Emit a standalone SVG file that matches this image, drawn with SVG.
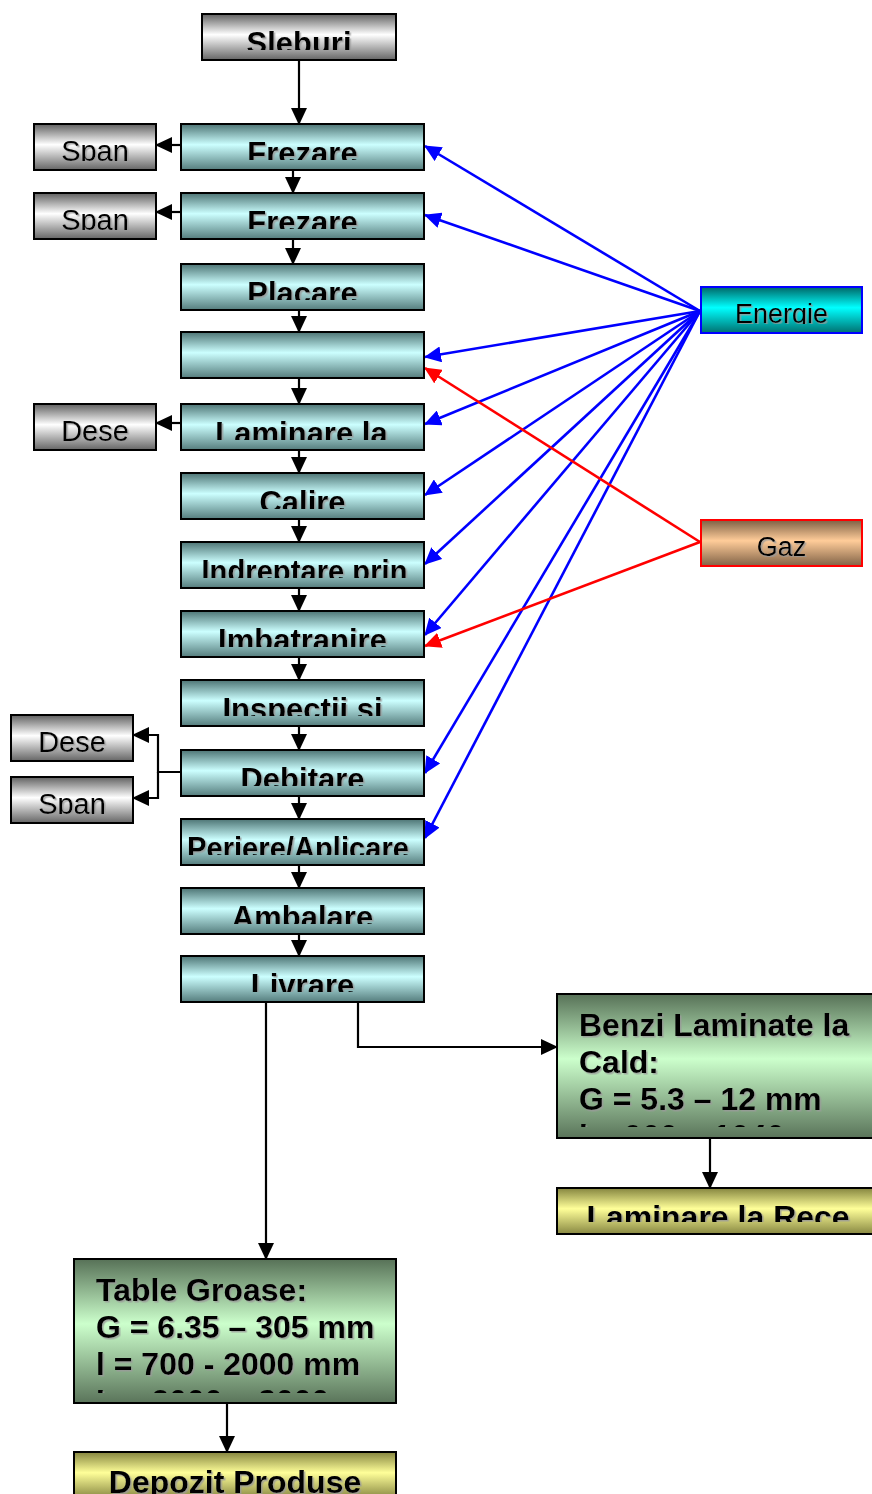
<svg xmlns="http://www.w3.org/2000/svg" width="872" height="1494" viewBox="0 0 872 1494">
<style>
.box{stroke:#000;stroke-width:2}
.cyan{fill:url(#gCyan)}
.gray{fill:url(#gGray)}
.green{fill:url(#gGreen)}
.yellow{fill:url(#gYellow)}
.en{fill:url(#gEn);stroke:#0000ff;stroke-width:2}
.gz{fill:url(#gGaz);stroke:#ff0000;stroke-width:2}
.tb{font-family:"Liberation Sans",Arial,sans-serif;font-weight:bold;font-size:31px;fill:#000;filter:url(#sh)}
.tl{font-size:32px}
.tr{font-family:"Liberation Sans",Arial,sans-serif;font-size:29px;fill:#000;filter:url(#sh)}
.ts{font-family:"Liberation Sans",Arial,sans-serif;font-size:27px;fill:#000;filter:url(#sh)}
.c{text-anchor:middle}
.k{fill:none;stroke:#000;stroke-width:2.2}
.b{fill:none;stroke:#0000ff;stroke-width:2.6}
.r{fill:none;stroke:#ff0000;stroke-width:2.6}
</style>
<defs>
<filter id="sh" x="-5%" y="-5%" width="110%" height="120%">
<feDropShadow dx="1.5" dy="1.5" stdDeviation="0" flood-color="#9a9a9a" flood-opacity="0.8"/>
</filter>
<linearGradient id="gCyan" x1="0" y1="0" x2="0" y2="1"><stop offset="0" stop-color="#4d7474"/><stop offset="0.45" stop-color="#ccffff"/><stop offset="1" stop-color="#557d7d"/></linearGradient>
<linearGradient id="gGray" x1="0" y1="0" x2="0" y2="1"><stop offset="0" stop-color="#606060"/><stop offset="0.45" stop-color="#ffffff"/><stop offset="1" stop-color="#656565"/></linearGradient>
<linearGradient id="gEn" x1="0" y1="0" x2="0" y2="1"><stop offset="0" stop-color="#006666"/><stop offset="0.45" stop-color="#00ffff"/><stop offset="1" stop-color="#007070"/></linearGradient>
<linearGradient id="gGaz" x1="0" y1="0" x2="0" y2="1"><stop offset="0" stop-color="#7d6044"/><stop offset="0.45" stop-color="#ffcc99"/><stop offset="1" stop-color="#806246"/></linearGradient>
<linearGradient id="gGreen" x1="0" y1="0" x2="0" y2="1"><stop offset="0" stop-color="#577157"/><stop offset="0.45" stop-color="#ccffcc"/><stop offset="1" stop-color="#5a745a"/></linearGradient>
<linearGradient id="gYellow" x1="0" y1="0" x2="0" y2="1"><stop offset="0" stop-color="#85853f"/><stop offset="0.45" stop-color="#ffff99"/><stop offset="1" stop-color="#888842"/></linearGradient>
<marker id="ak" markerUnits="userSpaceOnUse" viewBox="0 0 17 16" markerWidth="17" markerHeight="16" refX="16" refY="8" orient="auto"><path d="M0,0 L17,8 L0,16 z" fill="#000"/></marker>
<marker id="ab" markerUnits="userSpaceOnUse" viewBox="0 0 17 16" markerWidth="17" markerHeight="16" refX="16" refY="8" orient="auto"><path d="M0,0 L17,8 L0,16 z" fill="#0000ff"/></marker>
<marker id="ar" markerUnits="userSpaceOnUse" viewBox="0 0 17 16" markerWidth="17" markerHeight="16" refX="16" refY="8" orient="auto"><path d="M0,0 L17,8 L0,16 z" fill="#ff0000"/></marker>
<clipPath id="c_sleb"><rect x="202" y="14" width="194" height="36"/></clipPath>
<clipPath id="c_fr1"><rect x="181" y="124" width="243" height="36"/></clipPath>
<clipPath id="c_fr2"><rect x="181" y="193" width="243" height="36"/></clipPath>
<clipPath id="c_plac"><rect x="181" y="264" width="243" height="36"/></clipPath>
<clipPath id="c_lam"><rect x="181" y="404" width="243" height="36"/></clipPath>
<clipPath id="c_cal"><rect x="181" y="473" width="243" height="36"/></clipPath>
<clipPath id="c_ind"><rect x="181" y="542" width="243" height="36"/></clipPath>
<clipPath id="c_imb"><rect x="181" y="611" width="243" height="36"/></clipPath>
<clipPath id="c_ins"><rect x="181" y="680" width="243" height="36"/></clipPath>
<clipPath id="c_deb"><rect x="181" y="750" width="243" height="36"/></clipPath>
<clipPath id="c_per"><rect x="181" y="819" width="243" height="36"/></clipPath>
<clipPath id="c_amb"><rect x="181" y="888" width="243" height="36"/></clipPath>
<clipPath id="c_liv"><rect x="181" y="956" width="243" height="36"/></clipPath>
<clipPath id="c_sp1"><rect x="34" y="124" width="122" height="37"/></clipPath>
<clipPath id="c_sp2"><rect x="34" y="193" width="122" height="37"/></clipPath>
<clipPath id="c_de1"><rect x="34" y="404" width="122" height="37"/></clipPath>
<clipPath id="c_de2"><rect x="11" y="715" width="122" height="37"/></clipPath>
<clipPath id="c_sp3"><rect x="11" y="777" width="122" height="37"/></clipPath>
<clipPath id="c_en"><rect x="701" y="287" width="161" height="37"/></clipPath>
<clipPath id="c_gz"><rect x="701" y="520" width="161" height="37"/></clipPath>
<clipPath id="c_benzi"><rect x="557" y="994" width="322" height="133"/></clipPath>
<clipPath id="c_rece"><rect x="557" y="1188" width="322" height="34"/></clipPath>
<clipPath id="c_table"><rect x="74" y="1259" width="322" height="134"/></clipPath>
<clipPath id="c_dep"><rect x="74" y="1452" width="322" height="42"/></clipPath>
</defs>
<rect width="872" height="1494" fill="#fff"/>

<g id="connectors">
<path class="k" d="M299,60 V124" marker-end="url(#ak)"/>
<path class="k" d="M293,170 V193" marker-end="url(#ak)"/>
<path class="k" d="M293,239 V264" marker-end="url(#ak)"/>
<path class="k" d="M299,310 V332" marker-end="url(#ak)"/>
<path class="k" d="M299,378 V404" marker-end="url(#ak)"/>
<path class="k" d="M299,450 V473" marker-end="url(#ak)"/>
<path class="k" d="M299,519 V542" marker-end="url(#ak)"/>
<path class="k" d="M299,588 V611" marker-end="url(#ak)"/>
<path class="k" d="M299,657 V680" marker-end="url(#ak)"/>
<path class="k" d="M299,726 V750" marker-end="url(#ak)"/>
<path class="k" d="M299,796 V819" marker-end="url(#ak)"/>
<path class="k" d="M299,865 V888" marker-end="url(#ak)"/>
<path class="k" d="M299,934 V956" marker-end="url(#ak)"/>
<path class="k" d="M181,145 H156" marker-end="url(#ak)"/>
<path class="k" d="M181,212 H156" marker-end="url(#ak)"/>
<path class="k" d="M181,423 H156" marker-end="url(#ak)"/>
<path class="k" d="M181,772 H158 V735 H133" marker-end="url(#ak)"/>
<path class="k" d="M158,772 V798 H133" marker-end="url(#ak)"/>
<path class="k" d="M266,1002 V1259" marker-end="url(#ak)"/>
<path class="k" d="M358,1002 V1047 H557" marker-end="url(#ak)"/>
<path class="k" d="M710,1138 V1188" marker-end="url(#ak)"/>
<path class="k" d="M227,1403 V1452" marker-end="url(#ak)"/>
<path class="b" d="M700,311 L425,146" marker-end="url(#ab)"/>
<path class="b" d="M700,311 L425,215" marker-end="url(#ab)"/>
<path class="b" d="M700,311 L425,357" marker-end="url(#ab)"/>
<path class="b" d="M700,311 L425,424" marker-end="url(#ab)"/>
<path class="b" d="M700,311 L425,495" marker-end="url(#ab)"/>
<path class="b" d="M700,311 L425,564" marker-end="url(#ab)"/>
<path class="b" d="M700,311 L425,635" marker-end="url(#ab)"/>
<path class="b" d="M700,311 L425,773" marker-end="url(#ab)"/>
<path class="b" d="M700,311 L425,838" marker-end="url(#ab)"/>
<path class="r" d="M700,542 L425,368" marker-end="url(#ar)"/>
<path class="r" d="M700,542 L425,646" marker-end="url(#ar)"/>
</g>

<g id="sleburi"><rect class="box gray" x="202" y="14" width="194" height="46"/><text class="tb c" x="299" y="54" clip-path="url(#c_sleb)">Sleburi</text></g>
<g id="frezare1"><rect class="box cyan" x="181" y="124" width="243" height="46"/><text class="tb c" x="302.5" y="164" clip-path="url(#c_fr1)">Frezare</text></g>
<g id="frezare2"><rect class="box cyan" x="181" y="193" width="243" height="46"/><text class="tb c" x="302.5" y="233" clip-path="url(#c_fr2)">Frezare</text></g>
<g id="placare"><rect class="box cyan" x="181" y="264" width="243" height="46"/><text class="tb c" x="302.5" y="304" clip-path="url(#c_plac)">Placare</text></g>
<g id="blank"><rect class="box cyan" x="181" y="332" width="243" height="46"/></g>
<g id="laminare"><rect class="box cyan" x="181" y="404" width="243" height="46"/><text class="tb c" x="301.5" y="444" clip-path="url(#c_lam)">Laminare la</text></g>
<g id="calire"><rect class="box cyan" x="181" y="473" width="243" height="46"/><text class="tb c" x="302.5" y="513" clip-path="url(#c_cal)">Calire</text></g>
<g id="indreptare"><rect class="box cyan" x="181" y="542" width="243" height="46"/><text class="tb c" x="304.5" y="582" textLength="206" lengthAdjust="spacingAndGlyphs" clip-path="url(#c_ind)">Indreptare prin</text></g>
<g id="imbatranire"><rect class="box cyan" x="181" y="611" width="243" height="46"/><text class="tb c" x="302.5" y="651" clip-path="url(#c_imb)">Imbatranire</text></g>
<g id="inspectii"><rect class="box cyan" x="181" y="680" width="243" height="46"/><text class="tb c" x="302.5" y="720" clip-path="url(#c_ins)">Inspectii si</text></g>
<g id="debitare"><rect class="box cyan" x="181" y="750" width="243" height="46"/><text class="tb c" x="302.5" y="790" clip-path="url(#c_deb)">Debitare</text></g>
<g id="periere"><rect class="box cyan" x="181" y="819" width="243" height="46"/><text class="tb c" x="298" y="859" textLength="222" lengthAdjust="spacingAndGlyphs" clip-path="url(#c_per)">Periere/Aplicare</text></g>
<g id="ambalare"><rect class="box cyan" x="181" y="888" width="243" height="46"/><text class="tb c" x="302.5" y="928" clip-path="url(#c_amb)">Ambalare</text></g>
<g id="livrare"><rect class="box cyan" x="181" y="956" width="243" height="46"/><text class="tb c" x="302.5" y="996" clip-path="url(#c_liv)">Livrare</text></g>

<g id="span1"><rect class="box gray" x="34" y="124" width="122" height="46"/><text class="tr c" x="95" y="161" clip-path="url(#c_sp1)">Span</text></g>
<g id="span2"><rect class="box gray" x="34" y="193" width="122" height="46"/><text class="tr c" x="95" y="230" clip-path="url(#c_sp2)">Span</text></g>
<g id="dese1"><rect class="box gray" x="34" y="404" width="122" height="46"/><text class="tr c" x="95" y="441" clip-path="url(#c_de1)">Dese</text></g>
<g id="dese2"><rect class="box gray" x="11" y="715" width="122" height="46"/><text class="tr c" x="72" y="752" clip-path="url(#c_de2)">Dese</text></g>
<g id="span3"><rect class="box gray" x="11" y="777" width="122" height="46"/><text class="tr c" x="72" y="814" clip-path="url(#c_sp3)">Span</text></g>

<g id="energie"><rect class="en" x="701" y="287" width="161" height="46"/><text class="ts c" x="781.5" y="323" clip-path="url(#c_en)">Energie</text></g>
<g id="gaz"><rect class="gz" x="701" y="520" width="161" height="46"/><text class="ts c" x="781.5" y="556" clip-path="url(#c_gz)">Gaz</text></g>

<g id="benzi"><rect class="box green" x="557" y="994" width="322" height="144"/>
<text class="tb tl" clip-path="url(#c_benzi)"><tspan x="579" y="1036">Benzi Laminate la</tspan><tspan x="579" y="1073">Cald:</tspan><tspan x="579" y="1110">G = 5.3 – 12 mm</tspan><tspan x="579" y="1147">l = 900 – 1040 mm</tspan></text></g>
<g id="rece"><rect class="box yellow" x="557" y="1188" width="322" height="46"/><text class="tb tl c" x="718" y="1228" clip-path="url(#c_rece)">Laminare la Rece</text></g>
<g id="table"><rect class="box green" x="74" y="1259" width="322" height="144"/>
<text class="tb tl" clip-path="url(#c_table)"><tspan x="96" y="1301">Table Groase:</tspan><tspan x="96" y="1338">G = 6.35 – 305 mm</tspan><tspan x="96" y="1375">l = 700 - 2000 mm</tspan><tspan x="96" y="1412">L = 2000 – 8000 mm</tspan></text></g>
<g id="depozit"><rect class="box yellow" x="74" y="1452" width="322" height="46"/><text class="tb tl c" x="235" y="1493" clip-path="url(#c_dep)">Depozit Produse</text></g>
</svg>
